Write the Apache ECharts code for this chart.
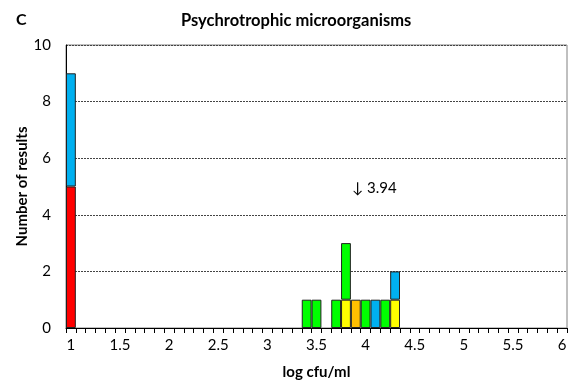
<!DOCTYPE html>
<html>
<head>
<meta charset="utf-8">
<script src="https://cdn.jsdelivr.net/npm/echarts@6/dist/echarts.min.js"></script>
<style>
  html, body { margin: 0; padding: 0; background: #fff; }
  #chart { width: 577px; height: 390px; }
</style>
</head>
<body>
<div id="chart"></div>
<script>
// Histogram bins (log cfu/ml), one category per 0.1 step
const bins = [
  '1','1.1','1.2','1.3','1.4','1.5','1.6','1.7','1.8','1.9',
  '2','2.1','2.2','2.3','2.4','2.5','2.6','2.7','2.8','2.9',
  '3','3.1','3.2','3.3','3.4','3.5','3.6','3.7','3.8','3.9',
  '4','4.1','4.2','4.3','4.4','4.5','4.6','4.7','4.8','4.9',
  '5','5.1','5.2','5.3','5.4','5.5','5.6','5.7','5.8','5.9',
  '6'
];

// Counts per bin for each group, as [bin, count]
const redCounts    = [['1', 5]];
const yellowCounts = [['3.8', 1], ['4.3', 1]];
const orangeCounts = [['3.9', 1]];
const greenCounts  = [['3.4', 1], ['3.5', 1], ['3.7', 1], ['3.8', 2], ['4', 1], ['4.2', 1]];
const blueCounts   = [['1', 4], ['4.1', 1], ['4.3', 1]];

const yTicks = [0, 2, 4, 6, 8, 10];
const medianNote = '\u2193 3.94';

const FONT = 'Lato';

function expand(pairs) {
  const out = bins.map(() => '-');
  pairs.forEach(([b, v]) => { out[bins.indexOf(b)] = v; });
  return out;
}

const groups = [
  { name: 'red', color: '#FF0000', counts: redCounts },
  { name: 'yellow', color: '#FFFF00', counts: yellowCounts },
  { name: 'orange', color: '#FFC000', counts: orangeCounts },
  { name: 'green', color: '#00FF00', counts: greenCounts },
  { name: 'blue', color: '#00B0F0', counts: blueCounts }
];

const chart = echarts.init(document.getElementById('chart'), null, { renderer: 'canvas' });

chart.setOption({
  animation: false,
  backgroundColor: '#fff',
  textStyle: { fontFamily: FONT },
  title: [
    { text: 'C', left: 11, top: 7, textStyle: { fontFamily: FONT, fontSize: 16, fontWeight: 'bold', color: '#000' } },
    { text: 'Psychrotrophic microorganisms', left: 176, top: 7, textStyle: { fontFamily: FONT, fontSize: 16.5, fontWeight: 'bold', color: '#000' } }
  ],
  grid: {
    left: 66, right: 10, top: 45, bottom: 62,
    show: true, borderColor: '#808080', borderWidth: 1
  },
  xAxis: {
    type: 'category',
    data: bins,
    boundaryGap: true,
    name: 'log cfu/ml',
    nameLocation: 'middle',
    nameGap: 37,
    nameMoveOverlap: false,
    nameTextStyle: { fontFamily: FONT, fontSize: 15, fontWeight: 'bold', color: '#000' },
    axisLine: { lineStyle: { color: '#000', width: 1 } },
    axisTick: { show: true, interval: 0, length: 5, alignWithLabel: false, lineStyle: { color: '#000' } },
    axisLabel: { interval: 4, margin: 10, fontFamily: FONT, fontSize: 15, color: '#000' },
    splitLine: { show: false }
  },
  yAxis: {
    type: 'value',
    min: yTicks[0],
    max: yTicks[yTicks.length - 1],
    interval: yTicks[1] - yTicks[0],
    name: 'Number of results',
    nameLocation: 'middle',
    nameGap: 36,
    nameMoveOverlap: false,
    nameTextStyle: { fontFamily: FONT, fontSize: 15, fontWeight: 'bold', color: '#000' },
    axisLine: { show: true, lineStyle: { color: '#000', width: 1 } },
    axisTick: { show: false },
    axisLabel: { margin: 15, fontFamily: FONT, fontSize: 15, color: '#000' },
    splitLine: { show: true, lineStyle: { color: '#444', type: [2, 1], width: 1 } }
  },
  series: groups.map(g => ({
    name: g.name,
    type: 'bar',
    stack: 'results',
    barCategoryGap: '0%',
    data: expand(g.counts),
    itemStyle: { color: g.color, borderColor: '#222', borderWidth: 1 }
  })),
  graphic: [
    {
      type: 'text',
      left: 352,
      top: 181,
      style: { text: medianNote, fontFamily: FONT, fontSize: 15, fill: '#000' }
    }
  ]
});
</script>
</body>
</html>
